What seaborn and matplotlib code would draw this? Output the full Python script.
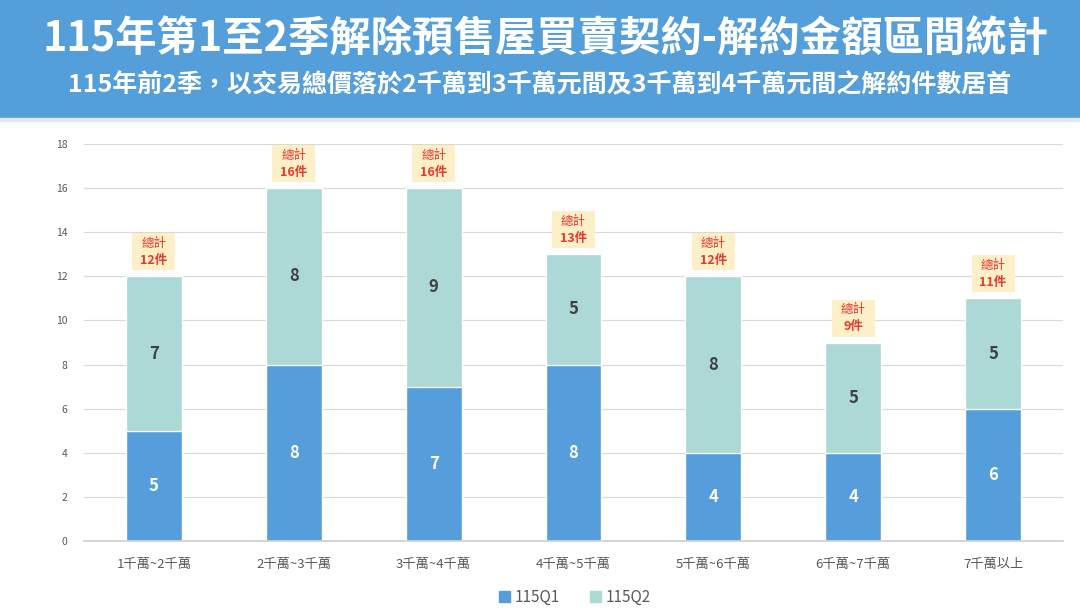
import numpy as np
import pandas as pd
import seaborn as sns
import matplotlib.pyplot as plt
from matplotlib.patches import Rectangle, Patch
from matplotlib.transforms import ScaledTranslation

# data
categories = ["1千萬~2千萬", "2千萬~3千萬", "3千萬~4千萬", "4千萬~5千萬",
              "5千萬~6千萬", "6千萬~7千萬", "7千萬以上"]
q1 = [5, 8, 7, 8, 4, 4, 6]
q2 = [7, 8, 9, 5, 8, 5, 5]
series_names = ["115Q1", "115Q2"]
title = "115年第1至2季解除預售屋買賣契約-解約金額區間統計"
subtitle = "115年前2季，以交易總價落於2千萬到3千萬元間及3千萬到4千萬元間之解約件數居首"

df = pd.DataFrame({"cat": categories, "q1": q1, "q2": q2})
df["total"] = df.q1 + df.q2

c_q1 = "#559edb"
c_q2 = "#acd8d6"
header_blue = "#549ed9"
txt_gray = "#595959"
red = "#e8392f"

sns.set_theme(style="white")
plt.rcParams["font.family"] = ["Noto Sans CJK TC", "DejaVu Sans"]

fig = plt.figure(figsize=(10.8, 6.13), dpi=100)

# header band
fig.patches.append(Rectangle((0, 1 - 118 / 613), 1, 118 / 613, transform=fig.transFigure,
                             color=header_blue, zorder=0))
fig.patches.append(Rectangle((0, 1 - 121 / 613), 1, 3 / 613, transform=fig.transFigure,
                             color="#e3e8ee", zorder=0))
fig.text(546 / 1080, 1 - 40 / 613, title, ha="center", va="center", color="white",
         fontsize=29.8, fontweight="bold")
fig.text(0.5, 1 - 85 / 613, subtitle, ha="center", va="center", color="white",
         fontsize=18, fontweight="bold")

ax = fig.add_axes([84 / 1080, 1 - 541 / 613, (1063 - 84) / 1080, (541 - 144) / 613])

sns.barplot(data=df, x="cat", y="total", color=c_q2, width=0.4, saturation=1, ax=ax, zorder=3)
sns.barplot(data=df, x="cat", y="q1", color=c_q1, width=0.4, saturation=1, ax=ax, zorder=3)

for i, row in df.iterrows():
    ax.text(i, row.q1 / 2, str(row.q1), ha="center", va="center", color="white",
            fontsize=12, fontweight="bold", zorder=5)
    ax.text(i, row.q1 + row.q2 / 2, str(row.q2), ha="center", va="center", color="#404040",
            fontsize=12, fontweight="bold", zorder=5)
    # total label box, sized in inches, anchored at the bar top
    anchor = fig.dpi_scale_trans + ScaledTranslation(i, row.total, ax.transData)
    ax.add_patch(Rectangle((-0.215, 0.06), 0.43, 0.37, transform=anchor,
                           facecolor="#fdf0c9", edgecolor="none", zorder=6, clip_on=False))
    ax.annotate("總計", xy=(i, row.total), xytext=(0, 23.8), textcoords="offset points",
                ha="center", va="center", color=red, fontsize=9, zorder=7)
    ax.annotate(f"{row.total}件", xy=(i, row.total), xytext=(0, 11.5), textcoords="offset points",
                ha="center", va="center", color=red, fontsize=9, fontweight="bold", zorder=7)

ax.set_ylim(0, 18)
ax.set_xlim(-0.5, len(categories) - 0.5)
ax.set_yticks(range(0, 19, 2))
ax.set_xlabel("")
ax.set_ylabel("")
ax.grid(axis="y", color="#d9d9d9", linewidth=0.8, zorder=0)
ax.set_axisbelow(True)
for s in ["left", "top", "right"]:
    ax.spines[s].set_visible(False)
ax.spines["bottom"].set_color("#d0d0d0")
ax.spines["bottom"].set_zorder(4)
ax.tick_params(axis="y", labelsize=7.5, colors=txt_gray, length=0, pad=12)
ax.tick_params(axis="x", labelsize=9.5, colors=txt_gray, length=0, pad=12)
ax.set_xticks(np.arange(-0.5, len(categories)), minor=True)
ax.tick_params(axis="x", which="minor", length=5, color="#d0d0d0", width=0.8)

handles = [Patch(color=c_q1, label=series_names[0]), Patch(color=c_q2, label=series_names[1])]
fig.legend(handles=handles, loc="center", bbox_to_anchor=(575 / 1080, 1 - 597 / 613), ncol=2,
           frameon=False, fontsize=11, labelcolor=txt_gray, handlelength=0.7, handleheight=0.7,
           handletextpad=0.3, columnspacing=2.0)

fig.savefig("out.png", dpi=100)
